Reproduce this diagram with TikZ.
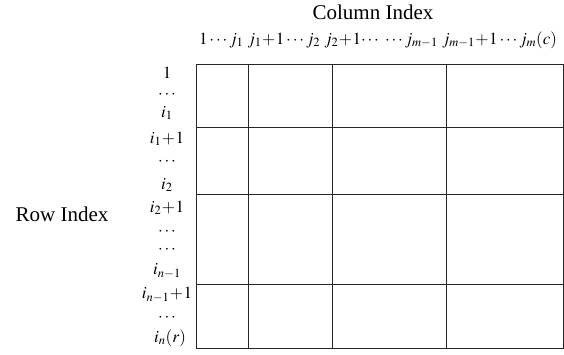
\documentclass[tikz,border=0pt]{standalone}
\usepackage{mathptmx}
\usepackage{fontspec}
\setmainfont{Liberation Serif}
\usepackage{tikz}
\usetikzlibrary{calc}
\tikzstyle{ttl} = [inner sep=0pt, font=\fontsize{21}{25}\selectfont]
\tikzstyle{idx} = [inner sep=0pt, font=\fontsize{17}{20}\selectfont]
\tikzstyle{cell} = [line width=1pt, draw=black!85]

\begin{document}
\begin{tikzpicture}[x=1pt,y=-1pt]
				\useasboundingbox (0,0) rectangle (564,354);
				\node[ttl] (colt) at (373,12) {Column Index};
				\node[ttl] (rowt) at (62,214) {Row Index};
				\node[idx] (cols) at (378,40) {$1\cdots j_1\ j_1\!+\!1\cdots j_2\ j_2\!+\!1\!\cdots\ \cdots j_{m-1}\ j_{m-1}\!+\!1\cdots j_m(c)$};
				%%%%%%%%%%%%%%%%%%%%%%%%%%%%%%%%%%
				\node[idx] (r1) at (167,73) {$1$};
				\node[idx] (r2) at (167,95) {$\cdots$};
				\node[idx] (r3) at (167,113) {$i_1$};
				\node[idx] (r4) at (167,139) {$i_1\!+\!1$};
				\node[idx] (r5) at (167,162) {$\cdots$};
				\node[idx] (r6) at (167,185) {$i_2$};
				\node[idx] (r7) at (167,208) {$i_2\!+\!1$};
				\node[idx] (r8) at (167,232) {$\cdots$};
				\node[idx] (r9) at (167,250) {$\cdots$};
				\node[idx] (r10) at (167,271) {$i_{n-1}$};
				\node[idx] (r11) at (167,295) {$i_{n-1}\!+\!1$};
				\node[idx] (r12) at (167,318) {$\cdots$};
				\node[idx] (r13) at (170,338) {$i_n(r)$};
				%%%%%%%%%%%%%%%%%%%%%%%%%%%%%%%%%%
				\coordinate (c0t) at (196,64);
				\coordinate (c1t) at (248,64);
				\coordinate (c2t) at (332,64);
				\coordinate (c3t) at (446,64);
				\coordinate (c1b) at (248,348);
				\coordinate (c2b) at (332,348);
				\coordinate (c3b) at (446,348);
				\coordinate (c4b) at (563,348);
				\coordinate (h1l) at (196,127);
				\coordinate (h2l) at (196,194);
				\coordinate (h3l) at (196,284);
				\coordinate (h1r) at (563,127);
				\coordinate (h2r) at (563,194);
				\coordinate (h3r) at (563,284);
				%%%%%%%%%%%%%%%%%%%%%%%%%%%%%%%%%%
				\draw[cell] (c0t) rectangle (c4b);
				\draw[cell] (c1t) -- (c1b);
				\draw[cell] (c2t) -- (c2b);
				\draw[cell] (c3t) -- (c3b);
				\draw[cell] (h1l) -- (h1r);
				\draw[cell] (h2l) -- (h2r);
				\draw[cell] (h3l) -- (h3r);
\end{tikzpicture}
\end{document}
